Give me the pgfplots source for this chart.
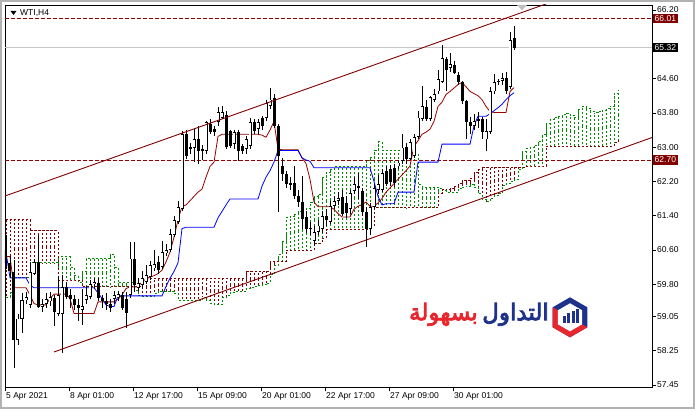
\documentclass[border=0pt]{standalone}
\usepackage{pgfplots}
\pgfplotsset{compat=1.18}
\usepackage{pgfplotstable}
\usepackage{fontspec}
\setmainfont{Liberation Sans}
\newfontfamily\arabicfont[Script=Arabic,AutoFakeBold=3.5]{DejaVu Sans}
\TeXXeTstate=1
\definecolor{mtred}{RGB}{128,0,0}
\definecolor{tkred}{RGB}{150,0,0}
\definecolor{hgreen}{RGB}{0,140,0}
\definecolor{hbrown}{RGB}{128,0,0}
\definecolor{logoblue}{RGB}{30,50,140}
\definecolor{logored}{RGB}{232,38,45}

\pgfplotstableread{
i o h l c
0 60.60 60.95 60.15 60.30
1 60.30 60.45 59.95 60.10
2 60.09 60.36 57.85 58.50
3 58.50 59.10 58.39 59.00
4 59.00 59.59 58.66 59.43
5 59.43 59.62 59.35 59.50
6 59.32 60.32 59.24 60.09
7 60.05 60.40 60.01 60.32
8 60.32 60.94 59.24 59.28
9 59.28 59.45 59.15 59.33
10 59.35 59.60 59.25 59.45
11 59.40 59.62 59.30 59.51
12 59.47 59.55 58.82 59.15
13 59.10 60.00 59.05 59.55
14 59.10 60.02 58.20 59.74
15 59.74 59.85 59.45 59.51
16 59.55 59.70 59.25 59.45
17 59.45 59.55 59.20 59.32
18 59.32 59.45 58.95 59.25
19 59.20 59.70 58.85 59.30
20 59.43 59.75 59.35 59.55
21 59.51 59.90 59.45 59.80
22 59.80 59.95 59.70 59.85
23 59.82 59.95 59.40 59.47
24 59.47 59.55 59.25 59.40
25 59.42 59.60 59.20 59.35
26 59.35 59.45 59.15 59.25
27 59.45 59.65 59.35 59.55
28 59.50 59.65 59.40 59.57
29 59.55 59.62 59.20 59.25
30 59.45 59.62 58.78 59.12
31 59.55 60.79 59.47 60.40
32 60.40 60.79 59.62 59.78
33 59.72 59.95 59.65 59.82
34 59.78 60.10 59.70 59.94
35 59.85 60.25 59.80 60.02
36 59.98 60.35 59.90 60.25
37 60.17 60.60 60.10 60.28
38 60.32 60.45 60.05 60.13
39 60.20 60.80 60.15 60.55
40 60.52 60.75 60.45 60.60
41 60.60 61.08 60.55 60.98
42 60.95 61.40 60.90 61.29
43 61.25 61.75 61.20 61.60
44 61.55 63.37 61.50 63.30
45 63.30 63.40 62.72 62.79
46 63.00 63.10 62.85 62.95
47 62.99 63.42 62.65 63.18
48 63.18 63.49 62.60 62.91
49 62.95 63.05 62.70 62.91
50 62.91 63.60 62.85 63.58
51 63.53 63.65 63.30 63.35
52 63.42 63.50 63.25 63.35
53 63.58 63.93 63.50 63.83
54 63.69 63.95 63.65 63.81
55 63.76 63.85 62.95 63.00
56 63.37 63.40 62.98 63.02
57 63.07 63.40 62.95 63.35
58 63.35 63.40 62.67 62.91
59 63.02 63.08 62.85 62.91
60 62.95 63.25 62.85 63.18
61 63.02 63.69 62.95 63.58
62 63.58 63.65 63.30 63.37
63 63.42 63.65 63.30 63.58
64 63.69 63.72 63.40 63.49
65 63.69 64.10 63.60 64.04
66 63.97 64.39 63.90 64.11
67 64.15 64.25 63.45 63.49
68 63.49 63.55 61.49 62.79
69 62.55 62.75 62.20 62.37
70 62.37 62.45 62.05 62.14
71 62.16 62.30 62.00 62.12
72 62.16 62.56 61.80 61.86
73 61.86 62.00 61.60 61.72
74 61.72 62.32 61.10 61.33
75 61.37 61.50 61.00 61.10
76 61.12 61.25 60.95 61.10
77 60.82 61.15 60.70 61.03
78 61.03 61.30 60.95 61.17
79 61.10 61.50 61.00 61.40
80 61.40 61.55 61.15 61.30
81 61.26 61.75 61.20 61.63
82 61.63 61.85 61.55 61.75
83 61.75 61.95 61.65 61.82
84 61.84 62.00 61.40 61.44
85 61.70 61.85 61.35 61.47
86 61.55 62.00 61.45 61.92
87 61.98 62.30 61.90 62.14
88 62.10 62.40 61.80 62.05
89 61.98 62.05 61.40 61.49
90 61.49 61.60 60.68 61.10
91 61.10 61.70 60.95 61.60
92 61.60 62.15 61.55 62.05
93 62.00 62.35 61.90 62.15
94 62.00 62.50 61.95 62.40
95 62.45 62.55 62.10 62.15
96 62.50 62.58 62.10 62.18
97 62.52 62.60 62.08 62.16
98 62.55 62.70 62.50 62.64
99 62.67 63.30 62.60 62.99
100 63.00 63.10 62.60 62.72
101 62.72 63.20 62.70 63.11
102 62.79 63.30 62.75 63.23
103 63.23 63.85 63.20 63.69
104 63.65 64.42 63.60 63.95
105 63.93 64.10 63.60 63.65
106 63.65 64.20 63.60 64.16
107 64.11 64.35 64.05 64.23
108 64.30 64.81 64.25 64.58
109 64.53 65.39 64.50 65.09
110 65.06 65.10 64.30 64.81
111 64.85 65.20 64.75 64.95
112 64.92 65.00 64.70 64.74
113 64.69 64.75 64.45 64.51
114 64.51 64.55 64.00 64.07
115 64.07 64.10 63.18 63.58
116 63.58 63.70 63.30 63.49
117 63.50 63.78 63.40 63.62
118 63.62 63.82 63.45 63.65
119 63.65 63.70 63.20 63.35
120 63.18 63.65 62.90 63.37
121 63.35 64.40 63.30 64.30
122 64.30 64.70 64.25 64.51
123 64.52 64.60 64.45 64.55
124 64.55 64.72 64.45 64.62
125 64.62 64.75 64.25 64.30
126 64.41 65.69 64.35 65.50
127 65.55 65.83 65.27 65.32
}\candles

\pgfplotstableread{
i t k
0 60.45 60.55
1 60.45 59.95
2 59.72 59.95
3 59.72 59.95
4 59.72 59.95
5 59.72 59.95
6 59.55 59.78
7 59.35 59.72
8 59.32 59.72
9 59.32 59.72
10 59.32 59.72
11 59.47 59.72
12 59.57 59.72
13 59.57 59.72
14 59.57 59.72
15 59.57 59.72
16 59.47 59.72
17 59.12 59.72
18 59.12 59.72
19 59.12 59.72
20 59.12 59.72
21 59.12 59.72
22 59.12 59.72
23 59.39 59.60
24 59.39 59.47
25 59.39 59.32
26 59.39 59.28
27 59.39 59.28
28 59.45 59.53
29 59.55 59.53
30 59.70 59.53
31 59.74 59.53
32 59.74 59.53
33 59.74 59.53
34 59.86 59.53
35 59.92 59.53
36 59.97 59.53
37 60.00 59.53
38 60.05 59.53
39 60.13 59.53
40 60.32 59.75
41 60.55 59.94
42 60.90 60.10
43 61.30 60.30
44 61.62 61.10
45 61.65 61.13
46 61.75 61.13
47 61.85 61.13
48 61.95 61.13
49 62.02 61.13
50 62.30 61.13
51 62.55 61.13
52 62.65 61.13
53 63.25 61.35
54 63.30 61.50
55 63.30 61.65
56 63.30 61.79
57 63.30 61.79
58 63.30 61.79
59 63.30 61.79
60 63.30 61.79
61 63.30 61.79
62 63.30 61.79
63 63.30 61.79
64 63.28 62.09
65 63.23 62.30
66 63.40 62.45
67 63.60 62.65
68 62.95 62.92
69 62.94 62.92
70 62.94 62.92
71 62.94 62.92
72 62.94 62.92
73 62.94 62.92
74 62.75 62.75
75 62.62 62.70
76 62.25 62.67
77 61.72 62.52
78 61.61 62.52
79 61.61 62.52
80 61.61 62.52
81 61.61 62.52
82 61.55 62.52
83 61.45 62.52
84 61.37 62.52
85 61.37 62.52
86 61.37 62.52
87 61.55 62.52
88 61.62 62.52
89 61.66 62.52
90 61.72 62.52
91 61.62 62.52
92 61.62 62.20
93 61.70 61.85
94 61.80 61.65
95 61.95 61.68
96 62.05 61.68
97 62.15 61.68
98 62.25 61.95
99 62.35 61.95
100 62.45 61.95
101 62.56 61.95
102 63.02 61.95
103 63.15 62.65
104 63.30 62.65
105 63.35 62.65
106 63.42 62.65
107 63.60 62.65
108 63.95 62.65
109 64.05 63.07
110 64.23 63.07
111 64.30 63.07
112 64.38 63.07
113 64.46 63.07
114 64.51 63.07
115 64.41 63.07
116 64.30 63.07
117 64.25 63.50
118 64.20 63.72
119 64.11 63.72
120 63.95 63.72
121 63.83 63.78
122 63.81 63.85
123 63.81 63.92
124 63.81 64.00
125 63.81 64.11
126 64.30 64.20
127 64.39 64.27
}\lines

\pgfplotstableread{
j a b
0 59.50 61.31
1 59.60 61.31
2 59.95 61.31
3 59.95 61.31
4 59.95 61.31
5 59.95 61.31
6 60.30 61.06
7 60.30 61.06
8 60.30 61.06
9 60.30 61.06
10 60.30 61.06
11 60.30 61.06
12 60.30 61.06
13 60.45 59.90
14 60.45 59.90
15 60.45 59.90
16 60.20 59.90
17 60.00 59.90
18 59.85 59.90
19 60.10 59.74
20 60.40 59.74
21 60.40 59.74
22 60.40 59.74
23 60.40 59.74
24 60.40 59.74
25 60.40 59.74
26 60.50 59.74
27 60.20 59.74
28 59.835 59.74
29 59.835 59.74
30 59.835 59.74
31 59.835 59.74
32 59.665 59.74
33 59.535 59.74
34 59.52 59.94
35 59.52 59.94
36 59.52 59.94
37 59.595 59.94
38 59.645 59.94
39 59.645 59.94
40 59.645 59.94
41 59.645 59.94
42 59.595 59.94
43 59.42 59.94
44 59.42 59.94
45 59.42 59.94
46 59.42 59.94
47 59.42 59.94
48 59.42 59.94
49 59.495 59.94
50 59.43 59.94
51 59.355 59.94
52 59.335 59.94
53 59.335 59.94
54 59.49 59.94
55 59.54 59.94
56 59.615 59.94
57 59.635 59.94
58 59.635 59.94
59 59.635 59.94
60 59.695 60.10
61 59.725 60.10
62 59.75 60.10
63 59.765 60.10
64 59.79 60.10
65 59.83 60.10
66 60.035 60.33
67 60.245 60.33
68 60.50 60.33
69 60.80 60.33
70 61.36 60.59
71 61.39 60.59
72 61.44 60.59
73 61.49 60.59
74 61.54 60.59
75 61.575 60.59
76 61.715 60.59
77 61.84 60.75
78 61.89 60.75
79 62.30 60.875
80 62.40 61.075
81 62.475 61.075
82 62.545 61.075
83 62.545 61.075
84 62.545 61.075
85 62.545 61.075
86 62.545 61.075
87 62.545 61.075
88 62.545 61.075
89 62.545 61.075
90 62.685 61.075
91 62.765 61.15
92 62.925 61.585
93 63.125 61.585
94 62.935 61.585
95 62.93 61.585
96 62.93 61.585
97 62.93 61.585
98 62.93 61.585
99 62.93 61.585
100 62.90 61.585
101 62.88 61.585
102 62.85 61.585
103 62.12 61.585
104 62.065 61.585
105 62.065 61.585
106 62.065 61.585
107 62.065 61.585
108 62.035 61.93
109 61.985 62.005
110 61.945 62.02
111 61.945 62.045
112 61.945 62.095
113 62.035 62.145
114 62.07 62.22
115 62.09 62.22
116 62.12 62.27
117 62.07 62.42
118 61.91 62.47
119 61.775 62.535
120 61.725 62.535
121 61.815 62.535
122 61.865 62.535
123 61.915 62.535
124 62.10 62.535
125 62.15 62.535
126 62.20 62.535
127 62.255 62.535
128 62.485 62.535
129 62.90 62.535
130 62.975 62.56
131 63.00 62.56
132 63.035 62.56
133 63.125 62.56
134 63.30 62.56
135 63.56 63.02
136 63.65 63.02
137 63.685 63.02
138 63.725 63.02
139 63.765 63.02
140 63.79 63.02
141 63.74 63.02
142 63.685 63.02
143 63.875 63.02
144 63.96 63.02
145 63.915 63.02
146 63.835 63.02
147 63.805 63.02
148 63.83 63.02
149 63.865 63.02
150 63.905 63.02
151 63.96 63.02
152 64.25 63.10
153 64.33 63.18
}\cloud

\pgfplotsset{
  ebar/.style={draw=none, mark=none, forget plot, error bars/.cd, y dir=both, y explicit, error mark=none, error bar style={#1}},
}

\begin{document}
\begin{tikzpicture}
\path[use as bounding box] (-5pt,-22.7pt) rectangle (690pt,387.3pt);
\begin{axis}[
  at={(0pt,0pt)}, anchor=south west,
  scale only axis, width=647pt, height=382.3pt,
  xmin=-0.25, xmax=161.5, ymin=57.396, ymax=66.317,
  axis line style={black, line width=0.8pt},
  xtick={-0.25,15.75,31.75,47.75,63.75,79.75,95.75,111.75},
  xticklabels={5 Apr 2021,8 Apr 01:00,12 Apr 17:00,15 Apr 09:00,20 Apr 01:00,22 Apr 17:00,27 Apr 09:00,30 Apr 01:00},
  ytick={57.45,58.25,59.05,59.80,60.60,61.40,62.20,63.00,63.80,64.60,65.40,66.20},
  yticklabels={57.45,58.25,59.05,59.80,60.60,61.40,62.20,63.00,63.80,64.60,{},66.20},
  xtick pos=left, ytick pos=right, yticklabel pos=right,
  tick align=outside, major tick length=4pt,
  tick style={black, line width=0.6pt},
  xticklabel style={anchor=north west, inner sep=1pt, font=\fontsize{8.5}{10}\selectfont},
  yticklabel style={anchor=west, inner sep=1pt, font=\fontsize{8.5}{10}\selectfont},
  clip=true,
  restrict x to domain=-10:200,
]
% cloud hatching
\addplot[ebar={draw=hgreen, line width=0.8pt, dash pattern=on 2pt off 2pt}]
  table[x expr={\thisrow{a}>\thisrow{b} ? \thisrow{j} : -100}, y expr={(\thisrow{a}+\thisrow{b})/2}, y error expr={abs(\thisrow{a}-\thisrow{b})/2}] {\cloud};
\addplot[ebar={draw=hbrown, line width=0.8pt, dash pattern=on 2pt off 2pt}]
  table[x expr={\thisrow{a}<\thisrow{b} ? \thisrow{j} : -100}, y expr={(\thisrow{a}+\thisrow{b})/2}, y error expr={abs(\thisrow{a}-\thisrow{b})/2}] {\cloud};
\addplot[hgreen, line width=0.8pt, dash pattern=on 2pt off 2pt, const plot, mark=none] table[x=j, y=a] {\cloud};
\addplot[hbrown, line width=0.8pt, dash pattern=on 2pt off 2pt, const plot, mark=none] table[x=j, y=b] {\cloud};
% horizontal levels
\addplot[gray!45, line width=0.8pt, mark=none] coordinates {(-0.25,65.32) (161.5,65.32)};
\addplot[tkred, line width=0.8pt, dash pattern=on 4pt off 2pt, mark=none] coordinates {(-0.25,66.01) (161.5,66.01)};
\addplot[tkred, line width=0.8pt, dash pattern=on 4pt off 2pt, mark=none] coordinates {(-0.25,62.70) (161.5,62.70)};
% tenkan & kijun
\addplot[tkred, line width=0.8pt, mark=none] table[x=i, y=t] {\lines};
\addplot[blue, line width=0.8pt, mark=none] table[x=i, y=k] {\lines};
% candles: wicks
\addplot[ebar={draw=black, line width=0.8pt}]
  table[x=i, y expr={(\thisrow{h}+\thisrow{l})/2}, y error expr={(\thisrow{h}-\thisrow{l})/2}] {\candles};
% bodies (black)
\addplot[ebar={draw=black, line width=3pt}]
  table[x=i, y expr={(\thisrow{o}+\thisrow{c})/2}, y error expr={max(abs(\thisrow{c}-\thisrow{o})/2,0.012)}] {\candles};
% bull bodies inner white
\addplot[ebar={draw=white, line width=1.3pt}]
  table[x expr={\thisrow{c}>\thisrow{o} ? \thisrow{i} : -100}, y expr={(\thisrow{o}+\thisrow{c})/2}, y error expr={max((\thisrow{c}-\thisrow{o})/2-0.021,0)}] {\candles};
% channel
\addplot[mtred, line width=0.9pt, mark=none] coordinates {(-0.25,61.86) (161.5,67.22)};
\addplot[mtred, line width=0.9pt, mark=none] coordinates {(12,58.22) (161.5,63.225)};
\coordinate (L1) at (axis cs:161.5,66.01);
\coordinate (L2) at (axis cs:161.5,65.32);
\coordinate (L3) at (axis cs:161.5,62.70);
\end{axis}
% price boxes
\node[anchor=west, fill=mtred, text=white, inner xsep=2pt, inner ysep=1.5pt, font=\fontsize{8.5}{10}\selectfont, xshift=0.5pt] at (L1) {66.01};
\node[anchor=west, fill=black, text=white, inner xsep=2pt, inner ysep=1.5pt, font=\fontsize{8.5}{10}\selectfont, xshift=0.5pt] at (L2) {65.32};
\node[anchor=west, fill=mtred, text=white, inner xsep=2pt, inner ysep=1.5pt, font=\fontsize{8.5}{10}\selectfont, xshift=0.5pt] at (L3) {62.70};
% title
\fill[black] (5.5pt,376.3pt) -- (11.5pt,376.3pt) -- (8.5pt,372.3pt) -- cycle;
\node[anchor=west, inner sep=0pt, font=\fontsize{8.5}{10}\selectfont] at (15pt,374.3pt) {WTI,H4};
% shift marker
\fill[gray!50] (512pt,382.3pt) -- (522pt,382.3pt) -- (517pt,377pt) -- cycle;
% logo
\node[anchor=east, inner sep=0pt, text=logoblue, font=\arabicfont\bfseries\fontsize{23}{26}\selectfont] at (544pt,73pt)
  {\beginR التداول\endR};
\node[anchor=east, inner sep=0pt, text=logored, font=\arabicfont\bfseries\fontsize{23}{26}\selectfont] at (473pt,73pt)
  {\beginR بسهولة\endR};
\begin{scope}[shift={(565pt,70pt)}]
  \fill[logoblue] (90:20pt) -- (30:20pt) -- (-30:20pt) -- (-90:20pt) -- (-150:20pt) -- (150:20pt) -- cycle;
  \fill[logored] (-30:20pt) -- (-90:20pt) -- (-150:20pt) -- (150:20pt) -- (150:14pt) -- (-150:14pt) -- (-90:14pt) -- (-30:14pt) -- cycle;
  \fill[white] (90:14pt) -- (30:14pt) -- (-30:14pt) -- (-90:14pt) -- (-150:14pt) -- (150:14pt) -- cycle;
  \fill[logoblue] (-7.5pt,-6pt) rectangle (-4.5pt,1pt);
  \fill[logoblue] (-3pt,-6pt) rectangle (0pt,4pt);
  \fill[logoblue] (1.5pt,-6pt) rectangle (4.5pt,6pt);
  \fill[logoblue] (6pt,-6pt) rectangle (9pt,8pt);
\end{scope}
% window frame
\draw[gray!60, line width=2pt] (-4pt,-20.5pt) rectangle (689pt,386.3pt);
\end{tikzpicture}
\end{document}
